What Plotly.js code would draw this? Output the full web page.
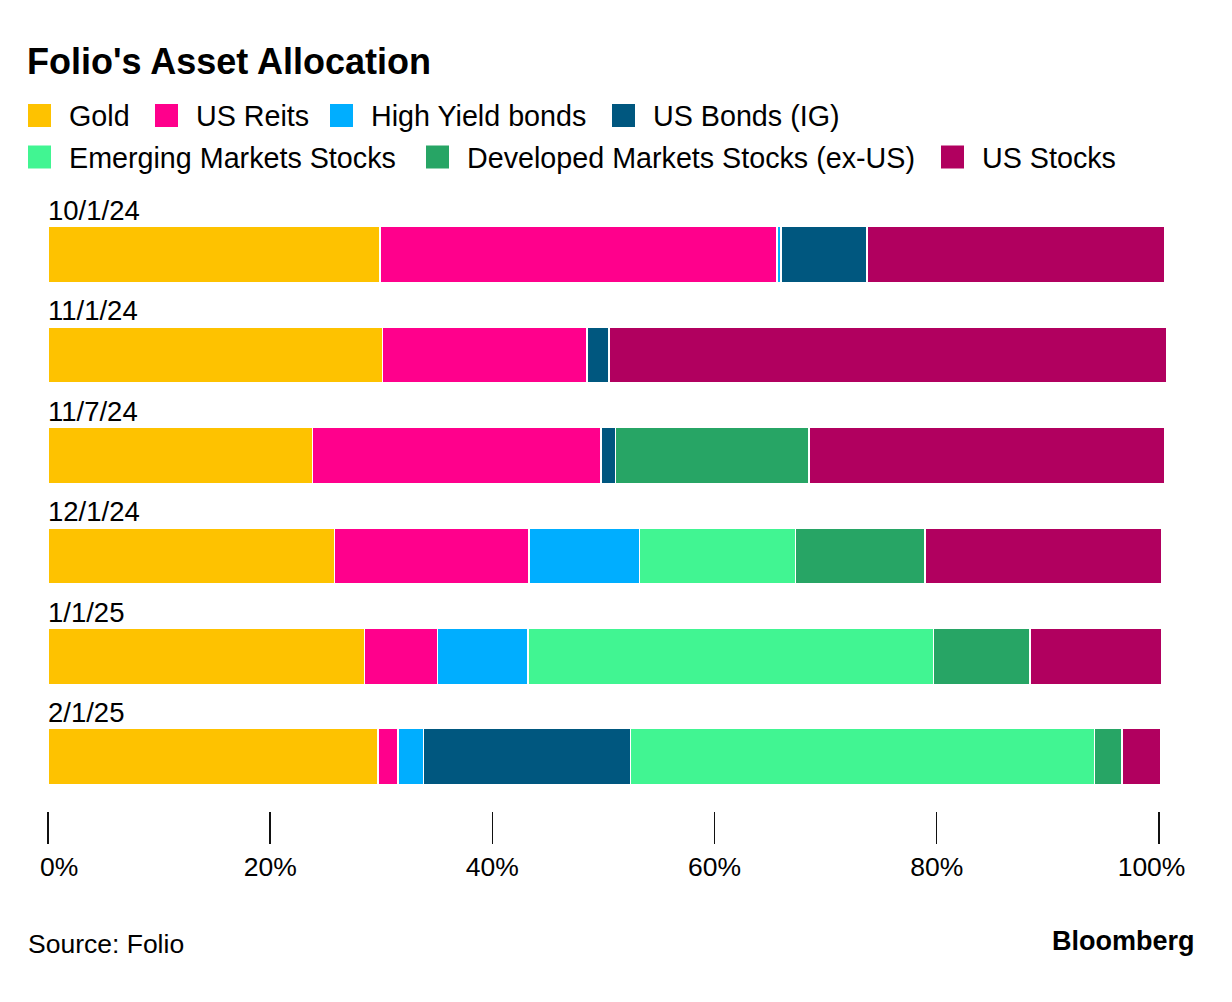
<!DOCTYPE html>
<html>
<head>
<meta charset="utf-8">
<script src="https://cdn.plot.ly/plotly-3.0.1.min.js"></script>
<style>
  html, body { margin: 0; padding: 0; background: #fff; }
  #chart { width: 1232px; height: 1002px; }
</style>
</head>
<body>
<div id="chart"></div>
<script>
// ---------------- DATA ----------------
var categories = ['10/1/24', '11/1/24', '11/7/24', '12/1/24', '1/1/25', '2/1/25'];
var seriesNames = ['Gold', 'US Reits', 'High Yield bonds', 'US Bonds (IG)',
                   'Emerging Markets Stocks', 'Developed Markets Stocks (ex-US)', 'US Stocks'];
var gold      = [29.9, 30.1, 23.8, 25.8, 28.5, 29.7];
var usReits   = [35.7, 18.4, 26.0, 17.5, 6.55, 1.8];
var highYield = [0.4, 0, 0, 9.95, 8.15, 2.3];
var usBonds   = [7.7, 2.0, 1.3, 0, 0, 18.65];
var emStocks  = [0, 0, 0, 14.05, 36.5, 41.75];
var dmStocks  = [0, 0, 17.4, 11.65, 8.7, 2.5];
var usStocks  = [26.8, 50.2, 32.0, 21.35, 11.9, 3.45];
var tickValues = [0, 20, 40, 60, 80, 100];
var tickLabels = ['\u00a0\u00a0\u00a00%', '20%', '40%', '60%', '80%', '100%\u00a0\u00a0'];

// ---------------- STYLE / LAYOUT CONSTANTS ----------------
var colors = ['#FEC200', '#FF008C', '#00AEFF', '#00577F', '#41F592', '#27A565', '#B1005F'];
var seriesValues = [gold, usReits, highYield, usBonds, emStocks, dmStocks, usStocks];
var FONT = 'Liberation Sans, Arial, sans-serif';
var W = 1232, H = 1002;
var M = { l: 48, r: 62, t: 204, b: 191 };
var PW = W - M.l - M.r, PH = H - M.t - M.b;
function px2x(px) { return (px - M.l) / PW; }
function py2y(py) { return (H - M.b - py) / PH; }

// legend layout (pixel positions of swatches) : [seriesIndex, swatchLeft, rowCenterY]
var legendPlacement = [
  [0, 28, 115.5], [1, 155, 115.5], [2, 330, 115.5], [3, 612, 115.5],
  [4, 28, 157], [5, 426, 157], [6, 941, 157]
];
var SW = 23;

var traces = seriesNames.map(function (name, i) {
  return {
    type: 'bar',
    orientation: 'h',
    name: name,
    y: categories,
    x: seriesValues[i],
    marker: { color: colors[i], line: { color: '#ffffff', width: 1.6 } },
    hoverinfo: 'skip',
    showlegend: false
  };
});

var shapes = [];
var annotations = [];
legendPlacement.forEach(function (p) {
  var i = p[0], left = p[1], cy = p[2];
  shapes.push({
    type: 'rect', xref: 'paper', yref: 'paper',
    x0: px2x(left), x1: px2x(left + SW),
    y0: py2y(cy + SW / 2), y1: py2y(cy - SW / 2),
    fillcolor: colors[i], line: { width: 0 }
  });
  annotations.push({
    xref: 'paper', yref: 'paper',
    x: px2x(left + SW + 16), y: py2y(cy + 1),
    xanchor: 'left', yanchor: 'middle',
    text: seriesNames[i], showarrow: false,
    font: { family: FONT, size: 28.7, color: '#000' }
  });
});

categories.forEach(function (c) {
  annotations.push({
    xref: 'x', yref: 'y', x: 0, y: c,
    xanchor: 'left', yanchor: 'middle', yshift: 44, xshift: -2,
    text: c, showarrow: false,
    font: { family: FONT, size: 27.5, color: '#000' }
  });
});

annotations.push({
  xref: 'paper', yref: 'paper', x: px2x(26), y: py2y(944),
  xanchor: 'left', yanchor: 'middle', text: 'Source: Folio', showarrow: false,
  font: { family: FONT, size: 26.5, color: '#000' }
});
annotations.push({
  xref: 'paper', yref: 'paper', x: px2x(1197), y: py2y(941),
  xanchor: 'right', yanchor: 'middle', text: 'Bloomberg', showarrow: false,
  font: { family: FONT, size: 27, color: '#000', weight: 'bold' }
});

var layout = {
  width: W, height: H,
  margin: M,
  paper_bgcolor: '#fff', plot_bgcolor: '#fff',
  barmode: 'stack',
  bargap: 0.44,
  showlegend: false,
  title: {
    text: "Folio's Asset Allocation",
    xref: 'container', yref: 'container',
    x: 27 / W, xanchor: 'left',
    y: 1 - 61 / H, yanchor: 'middle',
    font: { family: FONT, size: 36, color: '#000', weight: 'bold' }
  },
  xaxis: {
    range: [0, 101],
    tickvals: tickValues,
    ticktext: tickLabels,
    ticks: 'outside', ticklen: 32, tickwidth: 1.5, tickcolor: '#111',
    showgrid: false, zeroline: false, showline: false,
    tickfont: { family: FONT, size: 26.5, color: '#000' },
    fixedrange: true
  },
  yaxis: {
    type: 'category',
    range: [5.54, -0.503],
    showticklabels: false, ticks: '',
    showgrid: false, zeroline: false, showline: false,
    fixedrange: true
  },
  shapes: shapes,
  annotations: annotations
};

Plotly.newPlot('chart', traces, layout, { displayModeBar: false, staticPlot: true });
</script>
</body>
</html>
